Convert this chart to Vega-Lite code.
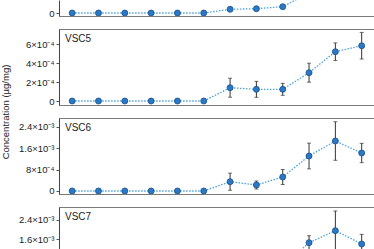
{
  "$schema": "https://vega.github.io/schema/vega-lite/v6.json",
  "padding": {"left": 0, "top": 0, "right": 0, "bottom": 0},
  "background": "white",
  "datasets": {
    "conc": [
      {"panel": "VSC4", "day": 1, "mean": 0, "err": 0},
      {"panel": "VSC4", "day": 2, "mean": 0, "err": 0},
      {"panel": "VSC4", "day": 3, "mean": 0, "err": 0},
      {"panel": "VSC4", "day": 4, "mean": 0, "err": 0},
      {"panel": "VSC4", "day": 5, "mean": 0, "err": 0},
      {"panel": "VSC4", "day": 6, "mean": 0, "err": 0},
      {"panel": "VSC4", "day": 7, "mean": 0.000037, "err": 0},
      {"panel": "VSC4", "day": 8, "mean": 0.000043, "err": 0},
      {"panel": "VSC4", "day": 9, "mean": 0.000063, "err": 0},
      {"panel": "VSC4", "day": 10, "mean": 0.0002, "err": 0},
      {"panel": "VSC5", "day": 1, "mean": 0, "err": 0},
      {"panel": "VSC5", "day": 2, "mean": 0, "err": 0},
      {"panel": "VSC5", "day": 3, "mean": 0, "err": 0},
      {"panel": "VSC5", "day": 4, "mean": 0, "err": 0},
      {"panel": "VSC5", "day": 5, "mean": 0, "err": 0},
      {"panel": "VSC5", "day": 6, "mean": 0, "err": 0},
      {"panel": "VSC5", "day": 7, "mean": 0.00014, "err": 0.0001},
      {"panel": "VSC5", "day": 8, "mean": 0.000123, "err": 0.000084},
      {"panel": "VSC5", "day": 9, "mean": 0.000123, "err": 0.000063},
      {"panel": "VSC5", "day": 10, "mean": 0.000298, "err": 0.0001},
      {"panel": "VSC5", "day": 11, "mean": 0.000519, "err": 0.000093},
      {"panel": "VSC5", "day": 12, "mean": 0.000582, "err": 0.00014},
      {"panel": "VSC6", "day": 1, "mean": 0, "err": 0},
      {"panel": "VSC6", "day": 2, "mean": 0, "err": 0},
      {"panel": "VSC6", "day": 3, "mean": 0, "err": 0},
      {"panel": "VSC6", "day": 4, "mean": 0, "err": 0},
      {"panel": "VSC6", "day": 5, "mean": 0, "err": 0},
      {"panel": "VSC6", "day": 6, "mean": 0, "err": 0},
      {"panel": "VSC6", "day": 7, "mean": 0.000347, "err": 0.00032},
      {"panel": "VSC6", "day": 8, "mean": 0.000224, "err": 0.00015},
      {"panel": "VSC6", "day": 9, "mean": 0.000522, "err": 0.00028},
      {"panel": "VSC6", "day": 10, "mean": 0.001306, "err": 0.00048},
      {"panel": "VSC6", "day": 11, "mean": 0.001866, "err": 0.00072},
      {"panel": "VSC6", "day": 12, "mean": 0.001418, "err": 0.00036},
      {"panel": "VSC7", "day": 9, "mean": 0.00048, "err": 0.0002},
      {"panel": "VSC7", "day": 10, "mean": 0.001454, "err": 0.00029},
      {"panel": "VSC7", "day": 11, "mean": 0.001954, "err": 0.00082},
      {"panel": "VSC7", "day": 12, "mean": 0.0014, "err": 0.0004}
    ]
  },
  "vconcat": [
    {
      "width": 329, "height": 16,
      "view": {"stroke": null},
      "data": {"name": "conc"},
      "transform": [{"filter": "datum.panel == 'VSC4'"}],
      "encoding": {
        "x": {"field": "day", "type": "quantitative", "scale": {"domain": [0.5, 13], "nice": false, "zero": false},
              "axis": {"title": null, "labels": false, "ticks": false, "domain": true, "domainColor": "#7a7a7a", "grid": false}},
        "y": {"field": "mean", "type": "quantitative", "title": null,
              "scale": {"domain": [-0.00003, 0.00013], "nice": false, "zero": false},
              "axis": {"values": [0], "labelExpr": "'0'"}}
      },
      "layer": [
        {"mark": {"type": "line", "color": "#4aa3df", "strokeDash": [1.5, 1.5], "strokeWidth": 1.3, "clip": true}},
        {"mark": {"type": "circle", "size": 36, "fill": "#2a78c8", "stroke": "#1c4f86", "strokeWidth": 0.8, "opacity": 1, "clip": true}}
      ]
    },
    {
      "width": 329, "height": 76,
      "view": {"stroke": "#7a7a7a"},
      "title": {"text": "VSC5"},
      "data": {"name": "conc"},
      "transform": [{"filter": "datum.panel == 'VSC5'"}],
      "encoding": {
        "x": {"field": "day", "type": "quantitative", "scale": {"domain": [0.5, 13], "nice": false, "zero": false}, "axis": null},
        "y": {"field": "mean", "type": "quantitative", "title": "Concentration (µg/mg)",
              "scale": {"domain": [-0.000042, 0.000758], "nice": false, "zero": false},
              "axis": {"values": [0, 0.0002, 0.0004, 0.0006],
                       "labelExpr": "datum.value == 0 ? '0' : format(datum.value*1e4, '.0f') + '×10⁻⁴'",
                       "titleX": -50.5, "titleY": 82.5, "titleBaseline": "alphabetic", "titleAngle": -90, "titleAlign": "center"}}
      },
      "layer": [
        {"mark": {"type": "line", "color": "#4aa3df", "strokeDash": [1.5, 1.5], "strokeWidth": 1.3, "clip": true}},
        {"transform": [{"filter": "datum.err > 0"}],
         "mark": {"type": "errorbar", "ticks": true, "size": 4, "thickness": 1, "color": "#333333"},
         "encoding": {"y": {"field": "mean", "type": "quantitative", "title": "Concentration (µg/mg)"}, "yError": {"field": "err"}}},
        {"mark": {"type": "circle", "size": 36, "fill": "#2a78c8", "stroke": "#1c4f86", "strokeWidth": 0.8, "opacity": 1, "clip": true}}
      ]
    },
    {
      "width": 329, "height": 76,
      "view": {"stroke": "#7a7a7a"},
      "title": {"text": "VSC6"},
      "data": {"name": "conc"},
      "transform": [{"filter": "datum.panel == 'VSC6'"}],
      "encoding": {
        "x": {"field": "day", "type": "quantitative", "scale": {"domain": [0.5, 13], "nice": false, "zero": false}, "axis": null},
        "y": {"field": "mean", "type": "quantitative", "title": null,
              "scale": {"domain": [-0.000112, 0.002725], "nice": false, "zero": false},
              "axis": {"values": [0, 0.0008, 0.0016, 0.0024],
                       "labelExpr": "datum.value == 0 ? '0' : datum.value < 0.001 ? format(datum.value*1e4, '.0f') + '×10⁻⁴' : format(datum.value*1e3, '.1f') + '×10⁻³'"}}
      },
      "layer": [
        {"mark": {"type": "line", "color": "#4aa3df", "strokeDash": [1.5, 1.5], "strokeWidth": 1.3, "clip": true}},
        {"transform": [{"filter": "datum.err > 0"}],
         "mark": {"type": "errorbar", "ticks": true, "size": 4, "thickness": 1, "color": "#333333"},
         "encoding": {"y": {"field": "mean", "type": "quantitative", "title": null}, "yError": {"field": "err"}}},
        {"mark": {"type": "circle", "size": 36, "fill": "#2a78c8", "stroke": "#1c4f86", "strokeWidth": 0.8, "opacity": 1, "clip": true}}
      ]
    },
    {
      "width": 329, "height": 76,
      "view": {"stroke": "#7a7a7a"},
      "title": {"text": "VSC7"},
      "data": {"name": "conc"},
      "transform": [{"filter": "datum.panel == 'VSC7'"}],
      "encoding": {
        "x": {"field": "day", "type": "quantitative", "scale": {"domain": [0.5, 13], "nice": false, "zero": false}, "axis": null},
        "y": {"field": "mean", "type": "quantitative", "title": null,
              "scale": {"domain": [-0.000225, 0.00294], "nice": false, "zero": false},
              "axis": {"values": [0.0016, 0.0024],
                       "labelExpr": "format(datum.value*1e3, '.1f') + '×10⁻³'"}}
      },
      "layer": [
        {"mark": {"type": "line", "color": "#4aa3df", "strokeDash": [1.5, 1.5], "strokeWidth": 1.3, "clip": true}},
        {"transform": [{"filter": "datum.err > 0"}],
         "mark": {"type": "errorbar", "ticks": true, "size": 4, "thickness": 1, "color": "#333333"},
         "encoding": {"y": {"field": "mean", "type": "quantitative", "title": null}, "yError": {"field": "err"}}},
        {"mark": {"type": "circle", "size": 36, "fill": "#2a78c8", "stroke": "#1c4f86", "strokeWidth": 0.8, "opacity": 1, "clip": true}}
      ]
    }
  ],
  "spacing": 13,
  "bounds": "flush",
  "config": {
    "font": "Liberation Sans",
    "axis": {"labelFont": "Liberation Sans", "labelFontSize": 9.5, "labelColor": "#222222", "tickColor": "#555555", "tickSize": 3,
             "labelPadding": 2, "domain": true, "domainColor": "#444444", "grid": false,
             "titleFont": "Liberation Sans", "titleFontSize": 9.5, "titleFontWeight": "normal", "titleColor": "#222222"},
    "title": {"font": "Liberation Sans", "fontSize": 10, "fontWeight": "normal", "color": "#222222",
              "anchor": "start", "frame": "group", "offset": -15, "dx": 6, "baseline": "alphabetic"}
  }
}
